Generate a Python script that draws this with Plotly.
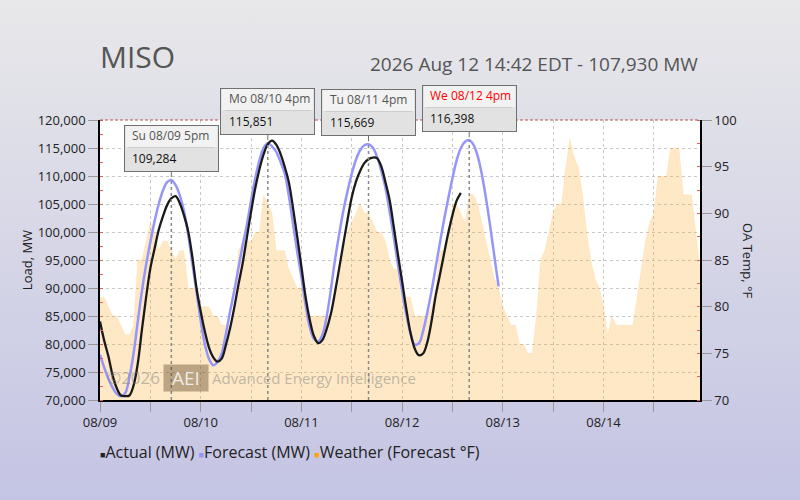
import base64
import pandas as pd
import plotly.graph_objects as go

# hourly values, starting 2026-08-09 00:00
forecast_mw = [
    78100, 75800, 73800, 72200, 71100, 70650, 71200, 74000, 78300, 84000, 89500, 94200,
    98200, 101900, 105000, 107400, 108900, 109284, 108400, 106600, 103800, 99600, 94500, 89300,
    84200, 79900, 77300, 76200, 76800, 78300, 81800, 85800, 89500, 93600, 97600, 101300,
    105600, 109600, 112800, 115000, 115851, 115300, 114300, 112600, 110500, 106500, 101500, 96500,
    92000, 87000, 83000, 80900, 80400, 81600, 84800, 89600, 95000, 99600, 103800, 107300,
    110400, 112900, 114600, 115500, 115669, 115100, 113500, 111000, 108000, 103800, 99200, 94200,
    89600, 85300, 81900, 79900, 80100, 82300, 85600, 89400, 93700, 98000, 102200, 106000,
    109600, 112800, 115000, 116100, 116398, 115600, 113600, 110300, 106000, 101000, 95600, 90300,
]
actual_mw = [
    84000, 80600, 77800, 74400, 72100, 70800, 70700, 70800, 72600, 76500, 82600, 88400,
    93500, 97000, 100400, 102800, 104800, 106000, 106400, 105200, 103000, 100200, 95600, 90000,
    85800, 82200, 79300, 77600, 76850, 77400, 79800, 82800, 86500, 90600, 94400, 99000,
    103600, 107800, 111200, 113900, 115700, 116300, 115600, 114000, 111700, 108900, 104300, 99200,
    93800, 88400, 84300, 81400, 80150, 80700, 82600, 85300, 89200, 93500, 97900, 102200,
    106200, 109000, 110900, 112300, 113000, 113300, 113200, 111800, 109000, 105800, 101000, 96000,
    91200, 86300, 82000, 79200, 78000, 78300, 80300, 84000, 88600, 92300, 96100, 99800,
    103000, 105600, 107000,
]
weather_f = [
    81, 81, 80, 79, 79, 78, 77, 77, 78, 85, 85, 87, 89, 88, 86, 87, 87, 86, 85, 86, 86, 82, 82, 82,
    80, 80, 80, 79, 79, 78, 78, 78, 79, 86, 87, 87, 87, 88, 88, 92, 91, 90, 86, 86, 86, 84, 83, 82,
    82, 80, 79, 79, 79, 79, 79, 79, 81, 84, 86, 88, 89, 90, 91, 90, 90, 89, 88, 88, 87, 85, 84, 84,
    82, 81, 81, 79, 79, 79, 79, 80, 82, 86, 86, 88, 91, 91, 90, 89, 92, 92, 91, 89, 87, 85, 83, 82,
    80, 79, 78, 78, 76, 76, 75, 75, 79, 85, 86, 88, 90, 91, 91, 95, 98, 96, 95, 92, 88, 85, 83, 82,
    80, 77, 79, 78, 78, 78, 78, 78, 81, 84, 87, 89, 90, 94, 94, 94, 97, 97, 97, 92, 92, 92, 88, 84,
]

peak_times = ['2026-08-09 17:00', '2026-08-10 16:00', '2026-08-11 16:00', '2026-08-12 16:00']
peak_labels = ['Su 08/09 5pm', 'Mo 08/10 4pm', 'Tu 08/11 4pm', 'We 08/12 4pm']
peak_values = [109284, 115851, 115669, 116398]
peak_colors = ['#555555', '#555555', '#555555', '#ff0000']

start = '2026-08-09 00:00'
t_forecast = pd.date_range(start, periods=len(forecast_mw), freq='h')
t_actual = pd.date_range(start, periods=len(actual_mw), freq='h')
t_weather = pd.date_range(start, periods=len(weather_f), freq='h')

FONT = 'Open Sans, Noto Sans, sans-serif'

fig = go.Figure()
fig.add_trace(go.Scatter(
    x=t_weather, y=weather_f, yaxis='y', mode='lines', fill='tozeroy',
    fillcolor='rgba(255,170,40,0.27)', line=dict(color='rgba(255,170,40,0.2)', width=0.5),
    name='Weather (Forecast °F)', showlegend=False))
fig.add_trace(go.Scatter(
    x=t_forecast, y=forecast_mw, yaxis='y2', mode='lines',
    line=dict(color='rgb(150,150,250)', width=2.5, shape='spline'),
    name='Forecast (MW)', showlegend=False))
fig.add_trace(go.Scatter(
    x=t_actual, y=actual_mw, yaxis='y2', mode='lines',
    line=dict(color='#1a1a1a', width=2.3, shape='spline'),
    name='Actual (MW)', showlegend=False))

shapes = [
    # white plot area over the gradient background image
    dict(type='rect', xref='paper', yref='paper', x0=0, x1=1, y0=0, y1=1,
         fillcolor='white', line=dict(width=0), layer='below'),
    dict(type='line', xref='paper', yref='paper', x0=0, x1=1, y0=1, y1=1,
         line=dict(color='rgb(190,80,80)', width=1, dash='3px,2px')),
]
annotations = []

for t, lab, v, c in zip(peak_times, peak_labels, peak_values, peak_colors):
    shapes.append(dict(type='line', xref='x', yref='y2', x0=t, x1=t, y0=70000, y1=v,
                       line=dict(color='#888', width=1.5, dash='dot'), layer='above'))
    ref = dict(x=t, y=v, xref='x', yref='y2')
    # callout box with a short pointer
    annotations.append(dict(text=' ', showarrow=True, ax=0, ay=-31.5, arrowhead=0,
                            arrowwidth=1, arrowcolor='#707070', standoff=3,
                            width=93, height=45, borderpad=0, borderwidth=1,
                            bordercolor='#707070', bgcolor='#e2e2e2', **ref))
    annotations.append(dict(text=' ', showarrow=False, yanchor='middle', yshift=43.5,
                            width=91, height=21, borderpad=0, borderwidth=0,
                            bgcolor='#f2f2f2', font=dict(size=1), **ref))
    annotations.append(dict(text=' ', showarrow=False, yanchor='middle', yshift=33,
                            width=86, height=1, borderpad=0, borderwidth=0,
                            bgcolor='#cdcdcd', font=dict(size=1), **ref))
    annotations.append(dict(text=lab, showarrow=False, xanchor='left', yanchor='middle',
                            xshift=-41, yshift=45,
                            font=dict(family=FONT, size=12, color=c), **ref))
    annotations.append(dict(text=f'{v:,}', showarrow=False, xanchor='left', yanchor='middle',
                            xshift=-41, yshift=22,
                            font=dict(family=FONT, size=12, color='#111'), **ref))

# titles
annotations.append(dict(x=-0.004, y=1.225, xref='paper', yref='paper', text='MISO',
                        showarrow=False, xanchor='left', yanchor='middle',
                        font=dict(family=FONT, size=30, color='#555')))
annotations.append(dict(x=1.0, y=1.2, xref='paper', yref='paper',
                        text='2026 Aug 12 14:42 EDT - 107,930 MW',
                        showarrow=False, xanchor='right', yanchor='middle',
                        font=dict(family=FONT, size=19, color='#555')))
annotations.append(dict(x=1.08, y=0.5, xref='paper', yref='paper', text='OA Temp, °F',
                        showarrow=False, textangle=90, xanchor='center', yanchor='middle',
                        font=dict(family=FONT, size=13, color='#222')))

# watermark
wm = 'rgba(128,128,128,0.5)'
annotations.append(dict(x=0.008, y=0.079, xref='paper', yref='paper', text='©2026',
                        showarrow=False, xanchor='left', yanchor='middle',
                        font=dict(family=FONT, size=17, color=wm)))
annotations.append(dict(x=0.1433, y=0.079, xref='paper', yref='paper', text='AEI',
                        showarrow=False, xanchor='center', yanchor='middle', width=42, height=24,
                        bgcolor='rgba(90,70,40,0.42)',
                        font=dict(family=FONT, size=19, color='rgba(255,255,255,0.8)')))
annotations.append(dict(x=0.183, y=0.079, xref='paper', yref='paper',
                        text='Advanced Energy Intelligence',
                        showarrow=False, xanchor='left', yanchor='middle',
                        font=dict(family=FONT, size=15, color=wm)))

# legend drawn as text
sq = "<span style='font-size:9px;color:{}'>■</span>"
legend_text = (sq.format('#222') + 'Actual (MW) ' + sq.format('rgb(150,150,250)') +
               'Forecast (MW) ' + sq.format('#ffa500') + 'Weather (Forecast °F)')
annotations.append(dict(x=-0.003, y=-0.186, xref='paper', yref='paper', text=legend_text,
                        showarrow=False, xanchor='left', yanchor='middle',
                        font=dict(family=FONT, size=16, color='#222')))

svg = ("<svg xmlns='http://www.w3.org/2000/svg' width='800' height='500'>"
       "<defs><linearGradient id='g' x1='0' y1='0' x2='0' y2='1'>"
       "<stop offset='0' stop-color='#e8e8ea'/><stop offset='1' stop-color='#c4c4e4'/>"
       "</linearGradient></defs><rect width='800' height='500' fill='url(#g)'/></svg>")
bg_src = 'data:image/svg+xml;base64,' + base64.b64encode(svg.encode()).decode()

grid = dict(showgrid=True, gridcolor='#c8c8c8', griddash='dot', gridwidth=1)

fig.update_layout(
    width=800, height=500,
    margin=dict(l=100, r=100, t=120, b=100),
    paper_bgcolor='#d8d8e8', plot_bgcolor='white',
    showlegend=False,
    font=dict(family=FONT, size=13, color='#222'),
    images=[dict(source=bg_src, xref='paper', yref='paper', x=-100 / 600, y=1 + 120 / 280,
                 sizex=800 / 600, sizey=500 / 280, xanchor='left', yanchor='top',
                 sizing='stretch', layer='below')],
    xaxis=dict(
        range=['2026-08-09 00:00', '2026-08-14 23:00'], type='date',
        tick0='2026-08-09', dtick=86400000, tickformat='%m/%d',
        ticks='outside', ticklen=10, tickcolor='#999', tickwidth=1,
        showline=True, linecolor='black', linewidth=1.5,
        tickfont=dict(family=FONT, size=13, color='#222'),
        minor=dict(dtick=43200000, ticks='outside', ticklen=10, tickcolor='#999',
                   showgrid=True, gridcolor='#c8c8c8', griddash='dot'),
        **grid),
    yaxis=dict(
        range=[70, 100], dtick=5, side='right', showgrid=False, zeroline=False,
        ticks='outside', ticklen=10, tickcolor='#999',
        showline=True, linecolor='black', linewidth=1.5,
        tickfont=dict(family=FONT, size=13, color='#222'),
        minor=dict(dtick=2.5, ticks='inside', ticklen=3, tickcolor='#e06060')),
    yaxis2=dict(
        range=[70000, 120000], dtick=5000, tickformat=',d', overlaying='y', side='left',
        zeroline=False, ticks='outside', ticklen=10, tickcolor='#999',
        showline=True, linecolor='black', linewidth=1.5,
        tickfont=dict(family=FONT, size=13, color='#222'),
        title=dict(text='Load, MW', font=dict(family=FONT, size=13, color='#222'), standoff=2),
        minor=dict(dtick=2500, ticks='inside', ticklen=3, tickcolor='#e06060'),
        **grid),
    shapes=shapes,
    annotations=annotations,
)

fig.write_html('out.html', config={'displayModeBar': False},
               post_script="document.body.style.margin='0px';")
